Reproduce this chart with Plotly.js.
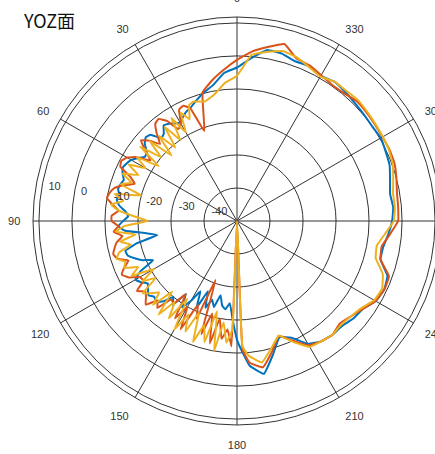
<!DOCTYPE html>
<html>
<head>
<meta charset="utf-8">
<script src="https://cdn.plot.ly/plotly-3.0.1.min.js"></script>
<style>
html,body{margin:0;padding:0;overflow:hidden;background:#fff;}
#chart{width:470px;height:454px;}
</style>
</head>
<body>
<div id="chart"></div>
<script>
// Angles in degrees (0 at top, counter-clockwise)
var theta = [0,5,10,15,20,
  22.5,25,27.5,30,32.5,35,37.5,40,42.5,45,47.5,50,52.5,55,57.5,60,62.5,65,67.5,70,72.5,75,77.5,80,
  82.5,85,87.5,90,92.5,95,97.5,100,102.5,105,107.5,110,112.5,115,117.5,120,122.5,125,127.5,130,
  132.5,135,137.5,140,142.5,145,147.5,150,152.5,155,157.5,160,162.5,165,167.5,170,172.5,175,177.5,
  180,182.5,
  185,190,195,200,205,210,215,220,225,230,235,240,245,250,255,260,265,270,275,280,285,290,295,300,
  305,310,315,320,325,330,335,340,345,350,355];

var seriesBlue = [-3.5,-5,-8.2,-10,-12,
  -13,-13.5,-14.5,-15.5,-15,-14,-13.5,-15.5,-16,-13,-12.5,-13.5,-15.5,-16,-14.5,-13,-12.3,-11.8,-12.5,-13.5,-13,-12.7,-13.5,-13,
  -14,-16,-17,-15.5,-14,-16,-22,-25.5,-19,-15,-15.3,-17,-19,-22,-17,-14.5,-15.5,-17,-16,-15,
  -16,-15.3,-17,-20,-18,-23,-19,-22,-26,-21,-27,-22,-25,-23,-27,-24,-23,-25,-20,
  -14,-10,
  -6,-3,-8,-12.5,-11,-7,-5.5,-5,-5,-4,-3.5,-1.5,-0.8,-1.5,-5,-5,-4,-3,-2.5,-2.9,-2,-0.8,-0.3,0.3,
  0,0.2,0.5,1,1.5,0.8,1.8,1.5,2.5,2.6,-0.5];

var seriesRed = [-1.2,-4,-6.7,-9.7,-21,
  -13,-11.5,-12,-16,-17,-13,-11,-11.5,-14,-17,-14,-12,-15,-18,-14,-11.5,-10.5,-11,-15,-17,-14,-11.5,-10.5,-10,
  -12,-14,-12,-12,-14,-12.5,-15,-13,-12,-11.2,-12,-15,-13,-11.5,-13,-16,-16.4,-13,-15,-14,
  -12.5,-16,-14.3,-19,-18.5,-23,-15,-20,-13,-22,-18,-31,-14,-21,-12,-20,-14,-17,-12,
  -50,-11,
  -7,-5,-9,-13,-10,-6.5,-5.5,-5,-6,-5,-3.5,-1.5,-0.8,-1,-5,-5.5,-3.5,-1.2,-1,-0.8,0,0.8,1,0.9,
  1,1.2,1.3,0.5,0.3,1,2,2.5,5.5,3.5,1.5];

var seriesYellow = [-6,-8,-11,-12.5,-11.5,
  -12,-16,-13,-19,-13,-20,-14,-21,-15,-22,-14,-20,-13,-21,-14,-18,-13,-17,-12.5,-16,-13,-20,-12,-15,
  -11.5,-14,-19,-23,-16,-13,-19,-14,-17,-13,-11.8,-14,-13,-17,-14,-21,-16,-20,-14,-16,
  -18,-14,-21,-13,-19,-14,-22,-12,-18,-13,-20,-11,-17,-12,-22,-10,-19,-13,-17,
  -50,-12,
  -9,-6.5,-10,-13,-9.5,-6,-5.5,-5,-5.5,-5,-4,-2,-1.5,-3,-6.5,-7,-5,-2.5,-2,-2,-1,0.2,0.8,1,
  1.2,1.5,1.8,1.5,1.5,0.5,1.5,2.8,3.3,2,0.5];

var angleTicks = [0,30,60,90,120,150,180,210,240,270,300,330];
var angleLabels = ['0','30','60','90','120','150','180','210','240','270','300','330'];
var radialTicks = [-40,-30,-20,-10,0,10];
var radialLabels = ['-40','-30','-20','-10','0','10'];
var titleText = 'YOZ面';

function closed(a){ return a.concat([a[0]]); }
var th = closed(theta);
var pad = '\u00a0\u00a0';

var colors = ['#0072BD','#D95319','#EDB120'];
var all = [seriesBlue, seriesRed, seriesYellow];
var traces = all.map(function(s,i){
  return {type:'scatterpolar', mode:'lines', theta:th, r:closed(s),
    line:{color:colors[i], width:2, shape:'spline', smoothing:0.3},
    showlegend:false, hoverinfo:'skip'};
});

var layout = {
  width:470, height:454,
  margin:{l:33, r:29, t:17, b:29},
  paper_bgcolor:'#fff', plot_bgcolor:'#fff',
  showlegend:false,
  title:{text:titleText, xref:'container', yref:'container', x:24/470, xanchor:'left',
    y:1-22/454, yanchor:'middle',
    font:{family:'"Noto Sans CJK SC", "Liberation Sans", sans-serif', size:18, color:'#111'}},
  font:{family:'"Liberation Sans", Arial, sans-serif', size:11, color:'#333'},
  polar:{
    domain:{x:[0,1], y:[0,1]},
    bgcolor:'#fff',
    angularaxis:{rotation:90, direction:'counterclockwise',
      tickmode:'array', tickvals:angleTicks, ticktext:angleLabels,
      showline:true, linecolor:'#333', linewidth:1,
      gridcolor:'#333', gridwidth:1,
      ticks:'outside', ticklen:10, tickcolor:'rgba(0,0,0,0)',
      tickfont:{size:11, color:'#333'}},
    radialaxis:{range:[-50,11.8], tickmode:'array', tickvals:radialTicks,
      ticktext:radialLabels.map(function(t){return pad+t;}),
      angle:171, tickangle:171, side:'clockwise',
      showline:false, ticks:'', gridcolor:'#333', gridwidth:1,
      tickfont:{size:11, color:'#333'}}
  }
};

Plotly.newPlot('chart', traces, layout, {displayModeBar:false, staticPlot:true});
</script>
</body>
</html>
